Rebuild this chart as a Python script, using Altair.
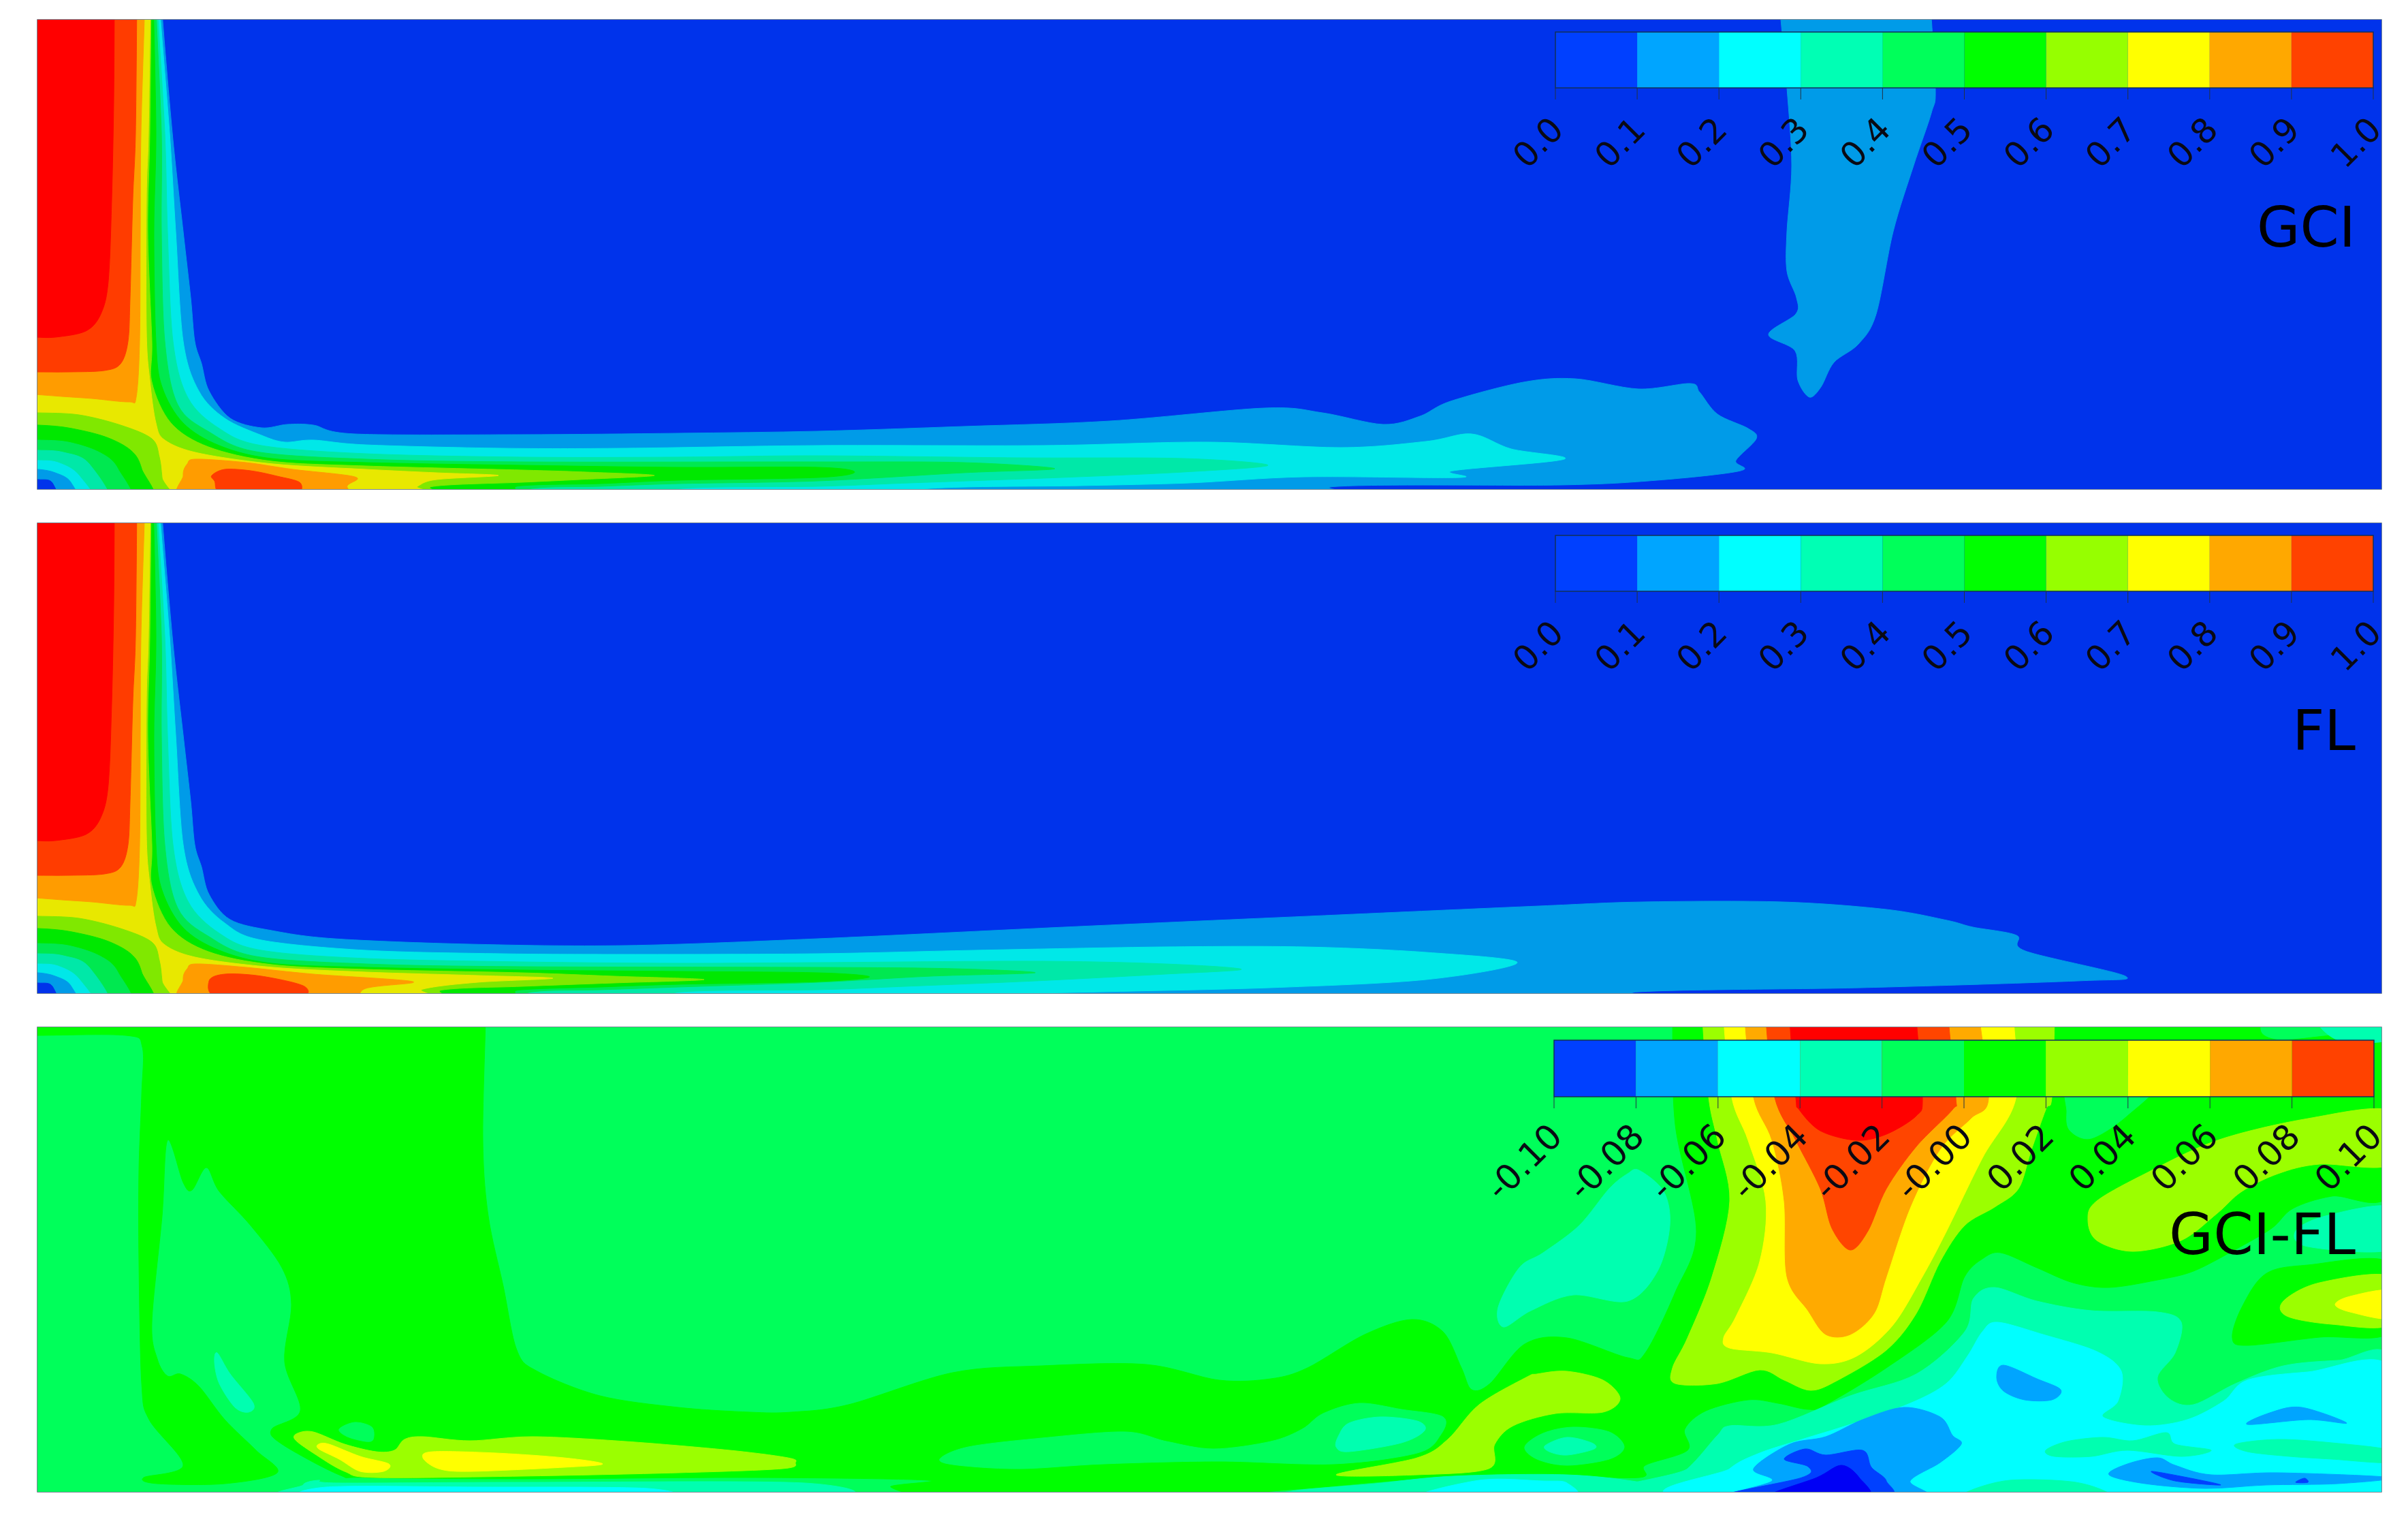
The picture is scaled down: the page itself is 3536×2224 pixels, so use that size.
import altair as alt
import pandas as pd

# palettes (levels 0..10)
PANEL_COLORS = ["#0033EB", "#009BE8", "#00E8E8", "#00E8A8", "#00E850", "#00E800",
                "#80E800", "#E8E800", "#FF9C00", "#FF3C00", "#FF0000"]
FIELD_COLORS = ["#0040FF", "#00A5FF", "#00FFFF", "#00FFB0", "#00FF5A", "#00FF00",
                "#9BFF00", "#FFFF00", "#FFAA00", "#FF4500", "#FF0000"]
DEEP_BLUE = "#0000F5"
BAR_COLORS = ["#0040FF", "#00A5FF", "#00FFFF", "#00FFB4", "#00FF5A", "#00FF00",
              "#96FF00", "#FFFF00", "#FFA800", "#FF4200"]
LABELS_01 = ["0.0", "0.1", "0.2", "0.3", "0.4", "0.5", "0.6", "0.7", "0.8", "0.9", "1.0"]
LABELS_DIFF = ["-0.10", "-0.08", "-0.06", "-0.04", "-0.02", "-0.00", "0.02", "0.04", "0.06", "0.08", "0.10"]

# ---------- contour outlines shared by GCI and FL (left wall and corner) ----------
RED = [(0, -60), (167, -60), (167, -10), (166, 145), (163, 291), (158, 412), (147, 460), (125, 485), (80, 494), (50, 494), (20, 494), (0, 494)]
REDORANGE = [(0, -60), (200, -60), (200, -10), (198, 194), (194, 291), (190, 436), (187, 500), (176, 533), (152, 543), (100, 545), (50, 545), (0, 545)]
ORANGE = [(0, -60), (212, -60), (212, -10), (206, 194), (205, 339), (204, 500), (199, 582), (188, 589), (134, 584), (90, 581), (50, 578), (0, 575)]
CORNER_6 = [(20, 605), (55, 605), (115, 608), (176, 623), (222, 643), (233, 670), (237, 700), (241, 745), (20, 745)]
CORNER_5 = [(20, 623), (55, 623), (99, 627), (153, 640), (191, 660), (207, 687), (216, 745), (20, 745)]
CORNER_4 = [(20, 645), (55, 645), (99, 648), (145, 663), (172, 687), (186, 745), (20, 745)]
CORNER_3 = [(20, 660), (55, 660), (92, 663), (130, 680), (157, 745), (20, 745)]
CORNER_2 = [(20, 675), (55, 675), (84, 678), (115, 697), (136, 745), (20, 745)]
CORNER_1 = [(20, 688), (55, 688), (80, 693), (103, 707), (112, 745), (20, 745)]
CORNER_0 = [(20, 703), (55, 703), (76, 708), (83, 745), (20, 745)]

# ---------- GCI ----------
GCI_1 = [(20, -60), (235, -60), (235, -10), (252, 194), (268, 339), (279, 436), (285, 500), (295, 533), (306, 573), (337, 613),
         (383, 627), (421, 622), (459, 623), (520, 636), (765, 637), (995, 635), (1200, 632), (1414, 625), (1629, 617),
         (1856, 598), (1941, 605), (2030, 622), (2084, 610), (2129, 588), (2236, 560), (2312, 555), (2405, 570),
         (2481, 562), (2495, 575), (2521, 607), (2566, 628), (2578, 643), (2548, 675), (2555, 690), (2432, 704),
         (2289, 711), (1963, 713), (1850, 735), (20, 735)]
GCI_PLUME = [(2611, -60), (2611, -10), (2623, 128), (2630, 242), (2623, 339), (2623, 397), (2637, 436), (2636, 460), (2596, 490),
             (2635, 514), (2639, 557), (2656, 582), (2673, 567), (2692, 531), (2728, 504), (2754, 460), (2779, 339),
             (2809, 242), (2835, 165), (2841, 128), (2833, -10), (2833, -60)]
GCI_2 = [(20, -60), (232, -60), (232, -10), (248, 194), (257, 339), (268, 500), (291, 573), (329, 613), (383, 638), (417, 648),
         (459, 645), (536, 652), (735, 657), (918, 657), (1200, 653), (1530, 653), (1771, 648), (1968, 656), (2093, 647),
         (2160, 636), (2218, 658), (2296, 673), (2133, 690), (2142, 700), (1914, 699), (1745, 708), (1584, 712),
         (1365, 716), (1250, 735), (20, 735)]
GCI_3 = [(20, -60), (229, -60), (229, -10), (241, 194), (245, 339), (253, 500), (275, 583), (321, 628), (383, 653), (536, 665),
         (765, 670), (995, 670), (1200, 668), (1495, 671), (1736, 672), (1861, 682), (1736, 692), (1557, 700),
         (1334, 708), (1200, 713), (1000, 716), (900, 735), (20, 735)]
GCI_4 = [(20, -60), (227, -60), (227, -10), (236, 194), (236, 339), (241, 500), (260, 593), (306, 633), (375, 662), (536, 673),
         (765, 677), (1200, 677), (1414, 678), (1548, 687), (1414, 693), (1200, 705), (995, 709), (880, 713),
         (780, 716), (700, 735), (20, 735)]
GCI_5 = [(20, -60), (224, -60), (224, -10), (228, 194), (225, 339), (228, 500), (237, 567), (268, 620), (321, 653), (398, 672),
         (536, 678), (765, 682), (995, 685), (1200, 685), (1254, 692), (1200, 700), (995, 704), (880, 709),
         (765, 712), (680, 725), (20, 735)]
GCI_6 = [(20, -60), (221, -60), (221, -10), (219, 194), (216, 339), (222, 500), (222, 560), (250, 620), (305, 655), (398, 676),
         (536, 683), (765, 689), (860, 692), (960, 697), (850, 703), (765, 707), (635, 713), (600, 730), (20, 735)]
GCI_7 = [(20, -60), (220, -60), (220, -10), (217, 194), (214, 291), (214, 485), (219, 557), (228, 620), (241, 645), (290, 664),
         (400, 680), (536, 688), (640, 693), (731, 697), (640, 703), (612, 713), (590, 730), (20, 735)]
GCI_8B = [(287, 673), (360, 678), (429, 688), (520, 699), (509, 712), (497, 735), (276, 735), (268, 697), (274, 680)]
GCI_9B = [(310, 697), (329, 688), (367, 690), (406, 698), (440, 708), (428, 725), (329, 725), (314, 705)]

# ---------- FL ----------
FL_1 = [(20, -60), (235, -60), (235, -10), (252, 194), (268, 339), (279, 436), (285, 500), (295, 533), (306, 573), (337, 610),
        (398, 626), (490, 638), (689, 646), (918, 648), (1200, 638), (1583, 620), (1965, 603), (2259, 590), (2412, 584),
        (2616, 584), (2769, 595), (2858, 611), (2896, 621), (2960, 633), (2973, 656), (3120, 693), (3049, 700),
        (2731, 710), (2405, 716), (2300, 735), (20, 735)]
FL_2 = [(20, -60), (232, -60), (232, -10), (248, 194), (257, 339), (268, 500), (291, 573), (329, 615), (383, 640), (536, 655),
        (735, 660), (918, 661), (1200, 660), (1430, 655), (1710, 650), (1914, 650), (2093, 658), (2227, 673),
        (2093, 698), (1863, 710), (1615, 716), (1379, 722), (1250, 735), (20, 735)]
FL_3 = [(20, -60), (229, -60), (229, -10), (241, 194), (245, 339), (253, 500), (275, 583), (321, 630), (383, 655), (536, 667),
        (765, 672), (995, 674), (1200, 673), (1519, 671), (1710, 675), (1822, 683), (1710, 690), (1519, 700),
        (1328, 708), (1200, 713), (1000, 716), (900, 735), (20, 735)]
FL_4 = [(20, -60), (227, -60), (227, -10), (236, 194), (236, 339), (241, 500), (260, 593), (306, 635), (375, 664), (536, 675),
        (765, 679), (1200, 680), (1400, 682), (1519, 688), (1366, 693), (1200, 702), (995, 709), (880, 713),
        (780, 716), (700, 735), (20, 735)]
FL_5 = [(20, -60), (224, -60), (224, -10), (228, 194), (225, 339), (228, 500), (237, 567), (268, 622), (321, 655), (398, 674),
        (536, 680), (765, 684), (995, 686), (1200, 688), (1276, 694), (1200, 701), (995, 705), (880, 709),
        (765, 713), (680, 725), (20, 735)]
FL_6 = [(20, -60), (221, -60), (221, -10), (219, 194), (216, 339), (222, 500), (222, 560), (250, 622), (305, 657), (398, 676),
        (536, 683), (765, 688), (900, 693), (1033, 698), (900, 703), (765, 708), (650, 713), (600, 730), (20, 735)]
FL_7 = [(20, -60), (220, -60), (220, -10), (217, 194), (214, 291), (214, 485), (219, 557), (228, 620), (241, 647), (290, 666),
        (400, 680), (536, 687), (700, 692), (811, 696), (700, 702), (620, 712), (590, 730), (20, 735)]
FL_8B = [(287, 675), (360, 680), (459, 690), (605, 701), (536, 711), (497, 735), (276, 735), (268, 698), (274, 682)]
FL_9B = [(306, 700), (329, 690), (383, 693), (446, 708), (436, 725), (321, 725)]

# ---------- GCI-FL ----------
D_5_MAIN = [(20, 1440), (712, 1440), (712, 1490), (708, 1669), (716, 1780), (738, 1883), (758, 1977), (788, 2008), (880, 2044),
            (995, 2061), (1100, 2068), (1161, 2068), (1245, 2057), (1398, 2010), (1529, 2000), (1682, 1998), (1789, 2021),
            (1865, 2019), (1919, 2003), (2003, 1954), (2072, 1932), (2118, 1950), (2145, 2003), (2160, 2035), (2187, 2026),
            (2238, 1968), (2300, 1959), (2389, 1988), (2415, 1981), (2459, 1892), (2490, 1803), (2459, 1646), (2455, 1490),
            (2455, 1440), (3317, 1440), (3317, 1490), (3340, 1521), (3510, 1530), (3510, 1744), (3423, 1751), (3366, 1769), (3335, 1798), (3282, 1829),
            (3220, 1861), (3167, 1874), (3096, 1885), (3043, 1878), (2990, 1856), (2937, 1834), (2910, 1843), (2884, 1869),
            (2857, 1936), (2769, 2003), (2680, 2057), (2654, 2064), (2610, 2055), (2566, 2050), (2504, 2066), (2473, 2093),
            (2477, 2124), (2415, 2146), (2406, 2164), (2265, 2160), (2133, 2162), (2018, 2171), (1904, 2181), (1700, 2195),
            (1400, 2195), (1307, 2178), (1360, 2168), (1100, 2164), (765, 2166), (536, 2164), (497, 2160), (413, 2115),
            (398, 2093), (440, 2066), (417, 1994), (427, 1910), (413, 1856), (367, 1794), (321, 1744), (302, 1709),
            (281, 1742), (268, 1731), (245, 1669), (237, 1780), (222, 1936), (230, 1990), (245, 2015), (264, 2012),
            (291, 2030), (329, 2079), (375, 2124), (406, 2157), (329, 2173), (230, 2173), (210, 2164), (268, 2146),
            (218, 2079), (207, 2026), (203, 1847), (203, 1713), (207, 1602), (208, 1532), (184, 1515), (55, 1515), (20, 1515)]
D_5_RIGHT = [(3510, 1849), (3388, 1852), (3326, 1865), (3291, 1914), (3277, 1959), (3299, 1970), (3405, 1958), (3510, 1950)]
D_6_PLUME = [(2499, 1440), (3016, 1440), (3016, 1490), (3012, 1606), (3003, 1624), (2981, 1686), (2963, 1740), (2928, 1767), (2884, 1794),
             (2848, 1847), (2813, 1923), (2769, 1977), (2698, 2021), (2658, 2036), (2619, 2021), (2583, 2006), (2521, 2026),
             (2459, 2026), (2455, 2003), (2477, 1959), (2513, 1869), (2539, 1758), (2521, 1669), (2508, 1606), (2499, 1490)]
D_6_UPPER = [(3510, 1626), (3388, 1637), (3255, 1669), (3149, 1718), (3078, 1758), (3065, 1785), (3078, 1816), (3131, 1832),
             (3202, 1816), (3255, 1776), (3291, 1744), (3344, 1718), (3405, 1704), (3510, 1704)]
D_6_RIGHT = [(3510, 1869), (3405, 1878), (3352, 1905), (3357, 1927), (3423, 1939), (3510, 1939)]
D_6_MID = [(1961, 2160), (2080, 2135), (2125, 2108), (2171, 2057), (2240, 2017), (2256, 2012), (2300, 2008), (2353, 2021),
           (2378, 2048), (2353, 2068), (2283, 2070), (2221, 2088), (2194, 2115), (2185, 2151), (2080, 2160)]
D_6_LEFT = [(436, 2099), (459, 2097), (505, 2115), (551, 2126), (578, 2124), (593, 2108), (620, 2104), (689, 2110), (781, 2104),
            (918, 2111), (1071, 2124), (1156, 2135), (1167, 2142), (1148, 2151), (995, 2157), (765, 2162), (551, 2164),
            (505, 2155), (459, 2128), (432, 2108)]
D_7_PLUME = [(2530, 1440), (2956, 1440), (2956, 1490), (2959, 1608), (2910, 1695), (2857, 1803), (2822, 1869), (2778, 1941), (2725, 1986),
             (2672, 1997), (2601, 1981), (2539, 1974), (2530, 1959), (2548, 1928), (2583, 1847), (2592, 1758), (2566, 1669),
             (2542, 1606), (2530, 1490)]
D_7_RIGHT = [(3510, 1890), (3450, 1898), (3428, 1910), (3450, 1921), (3510, 1930)]
D_7_A = [(467, 2115), (482, 2115), (528, 2133), (570, 2144), (562, 2155), (528, 2155), (497, 2137), (467, 2122)]
D_7_B = [(620, 2135), (635, 2126), (727, 2128), (827, 2135), (884, 2144), (827, 2149), (689, 2155), (643, 2151)]
D_8_PLUME = [(2561, 1440), (2906, 1440), (2906, 1490), (2919, 1608), (2893, 1637), (2848, 1682), (2804, 1767), (2769, 1869), (2751, 1923),
             (2716, 1954), (2680, 1954), (2654, 1919), (2623, 1869), (2619, 1758), (2601, 1669), (2574, 1606), (2561, 1490)]
D_9_PLUME = [(2592, 1440), (2860, 1440), (2860, 1490), (2871, 1606), (2866, 1624), (2813, 1678), (2769, 1740), (2742, 1802), (2716, 1830),
             (2689, 1798), (2672, 1740), (2636, 1669), (2605, 1606), (2592, 1490)]
D_10_PLUME = [(2627, 1440), (2813, 1440), (2813, 1490), (2822, 1606), (2813, 1633), (2769, 1660), (2725, 1669), (2672, 1655), (2641, 1624),
              (2636, 1606), (2627, 1490)]
D_4_UNDERBAR = [(3043, 1580), (3167, 1580), (3122, 1633), (3070, 1666), (3039, 1655), (3034, 1628)]
D_4_SMALL = [(497, 2093), (520, 2083), (545, 2090), (547, 2108), (536, 2111), (509, 2104)]
D_4_RING = [(2238, 2119), (2265, 2099), (2309, 2090), (2362, 2097), (2384, 2119), (2362, 2137), (2300, 2146), (2256, 2137)]
D_4_BAND = [(1379, 2137), (1421, 2119), (1529, 2106), (1651, 2097), (1712, 2111), (1781, 2122), (1865, 2111), (1911, 2093),
            (1942, 2070), (1995, 2055), (2057, 2064), (2118, 2075), (2114, 2102), (2080, 2128), (1957, 2144), (1789, 2140),
            (1620, 2144), (1498, 2151), (1406, 2146)]
D_3_BIG = [(2415, 2195), (2477, 2151), (2521, 2102), (2539, 2088), (2610, 2086), (2716, 2044), (2813, 2012), (2884, 1950),
           (2897, 1901), (2928, 1885), (2990, 1905), (3070, 1919), (3167, 1921), (3202, 1936), (3193, 1981), (3167, 2017),
           (3184, 2048), (3220, 2057), (3282, 2026), (3352, 2000), (3432, 1992), (3510, 1990), (3510, 2195)]
D_3_WEST = [(2406, 1713), (2442, 1744), (2451, 1794), (2433, 1861), (2389, 1905), (2309, 1896), (2247, 1919), (2207, 1943),
            (2199, 1914), (2230, 1856), (2265, 1834), (2318, 1794), (2362, 1740), (2389, 1718)]
D_3_EAST = [(3510, 1767), (3414, 1780), (3370, 1802), (3388, 1825), (3510, 1829)]
D_3_TOP = [(3401, 1480), (3510, 1480), (3510, 1521), (3430, 1521)]
D_3_SLIVER = [(318, 1981), (337, 2012), (371, 2055), (364, 2068), (344, 2061), (321, 2026), (314, 1995)]
D_3_ISLE = [(1965, 2102), (1980, 2084), (2026, 2075), (2080, 2081), (2091, 2095), (2057, 2113), (1980, 2126), (1961, 2119)]
D_3_RING = [(2268, 2117), (2300, 2105), (2336, 2113), (2340, 2122), (2300, 2131), (2274, 2126)]
D_3_FLOOR_L = [(444, 2175), (467, 2168), (497, 2172), (765, 2171), (1180, 2172), (1190, 2195), (459, 2195)]
D_3_FLOOR_R = [(1896, 2184), (2018, 2173), (2133, 2162), (2300, 2160), (2415, 2172), (2530, 2195), (1896, 2195)]
D_2_DUMMY_NOTE = None
D_2_BIG = [(2504, 2195), (2539, 2151), (2583, 2128), (2645, 2108), (2716, 2086), (2804, 2055), (2857, 2026), (2888, 1986),
           (2910, 1950), (2932, 1936), (2999, 1954), (3078, 1979), (3114, 2008), (3109, 2052), (3087, 2075), (3149, 2088),
           (3211, 2079), (3264, 2052), (3299, 2021), (3388, 2009), (3510, 2003), (3510, 2195)]
D_2_FLOOR_L = [(478, 2178), (700, 2178), (950, 2180), (950, 2195), (478, 2195)]
D_2_FLOOR_R = [(2171, 2168), (2263, 2169), (2300, 2172), (2300, 2195), (2080, 2195)]
D_3_ISLE_A = [(3003, 2124), (3034, 2111), (3087, 2105), (3131, 2110), (3180, 2098), (3193, 2115), (3246, 2124), (3202, 2133),
              (3123, 2124), (3070, 2133), (3016, 2133)]
D_3_ISLE_B = [(3282, 2115), (3344, 2108), (3423, 2113), (3510, 2124), (3510, 2142), (3423, 2137), (3361, 2133), (3299, 2126)]
D_3_ISLE_C = [(2890, 2184), (2950, 2168), (3040, 2170), (3090, 2184), (3090, 2195), (2890, 2195)]
D_1_A = [(2941, 1999), (2990, 2019), (3025, 2035), (3012, 2050), (2972, 2050), (2941, 2037), (2931, 2017)]
D_1_B = [(2574, 2151), (2627, 2115), (2680, 2104), (2734, 2079), (2795, 2061), (2848, 2075), (2866, 2102), (2879, 2115),
         (2848, 2142), (2804, 2169), (2818, 2195), (2539, 2195), (2601, 2169)]
D_1_C = [(3299, 2086), (3335, 2068), (3379, 2061), (3445, 2084), (3388, 2079)]
D_1_D = [(3096, 2160), (3123, 2144), (3167, 2135), (3193, 2146), (3246, 2160), (3344, 2157), (3510, 2164), (3432, 2173),
         (3326, 2175), (3238, 2180), (3149, 2173)]
D_0_A = [(2619, 2137), (2650, 2122), (2680, 2131), (2734, 2124), (2747, 2149), (2769, 2169), (2760, 2195), (2521, 2195),
         (2645, 2164), (2654, 2148)]
D_0_B = [(3158, 2155), (3211, 2164), (3260, 2175), (3193, 2169)]
D_0_C = [(3370, 2171), (3383, 2165), (3388, 2171)]
D_DEEP = [(2667, 2164), (2703, 2146), (2729, 2164), (2738, 2195), (2592, 2195)]

X_SCALE = alt.Scale(domain=[54, 3496], range=[0, 3442], nice=False, zero=False)
FONT = "DejaVu Sans"


def area(points, color, x_scale, y_scale):
    df = pd.DataFrame(points, columns=["x", "y"])
    df["i"] = range(len(df))
    return alt.Chart(df).mark_line(
        fill=color, stroke=color, strokeWidth=1, interpolate="cardinal-closed", tension=0.05, clip=True
    ).encode(
        x=alt.X("x:Q", scale=x_scale, axis=None),
        y=alt.Y("y:Q", scale=y_scale, axis=None),
        order="i:Q",
    )


def colorbar(x0, x1, y0, y1, tick_end, label_y, labels, size, x_scale, y_scale):
    step = (x1 - x0) / 10
    bar = pd.DataFrame({
        "a": [x0 + i * step for i in range(10)],
        "b": [x0 + (i + 1) * step for i in range(10)],
        "c": BAR_COLORS,
        "t": y0, "u": y1,
    })
    xe = alt.X("a:Q", scale=x_scale, axis=None)
    ye = alt.Y("t:Q", scale=y_scale, axis=None)
    cells = alt.Chart(bar).mark_rect().encode(
        x=xe, x2="b:Q", y=ye, y2="u:Q", fill=alt.Fill("c:N", scale=None))
    frame = alt.Chart(pd.DataFrame({"a": [x0], "b": [x1], "t": [y0], "u": [y1]})).mark_rect(
        fillOpacity=0, stroke="#12305a", strokeWidth=1.5).encode(x=xe, x2="b:Q", y=ye, y2="u:Q")
    ticks_df = pd.DataFrame({"a": [x0 + i * step for i in range(11)], "t": y1, "u": tick_end, "l": labels,
                             "ly": label_y})
    ticks = alt.Chart(ticks_df).mark_rule(stroke="#223344", strokeWidth=1).encode(x=xe, y=ye, y2="u:Q")
    text = alt.Chart(ticks_df).mark_text(
        font=FONT, fontSize=size, angle=315, align="right", baseline="middle", color="#0a0a14", dx=6
    ).encode(x=xe, y=alt.Y("ly:Q", scale=y_scale, axis=None), text="l:N")
    return [cells, frame, ticks, text]


def title(label, x, y, size, x_scale, y_scale):
    return alt.Chart(pd.DataFrame({"x": [x], "y": [y], "l": [label]})).mark_text(
        font=FONT, fontSize=size, align="right", baseline="alphabetic", color="#000000"
    ).encode(x=alt.X("x:Q", scale=x_scale, axis=None), y=alt.Y("y:Q", scale=y_scale, axis=None), text="l:N")


# ---- panel 1
ys1 = alt.Scale(domain=[717, 28], range=[689, 0], nice=False, zero=False)
c = PANEL_COLORS
bg = [(20, -10), (3520, -10), (3520, 735), (20, 735)]
sets1 = [(bg, c[0]), (GCI_1, c[1]), (GCI_PLUME, c[1]), (GCI_2, c[2]), (GCI_3, c[3]), (GCI_4, c[4]), (GCI_5, c[5]),
         (GCI_6, c[6]), (GCI_7, c[7]), (ORANGE, c[8]), (REDORANGE, c[9]), (RED, c[10]), (GCI_8B, c[8]), (GCI_9B, c[9]),
         (CORNER_6, c[6]), (CORNER_5, c[5]), (CORNER_4, c[4]), (CORNER_3, c[3]), (CORNER_2, c[2]), (CORNER_1, c[1]),
         (CORNER_0, c[0])]
p1 = alt.layer(*[area(p, col, X_SCALE, ys1) for p, col in sets1],
               *colorbar(2283, 3484, 46, 128, 145, 186, LABELS_01, 50, X_SCALE, ys1),
               title("GCI", 3458, 361, 82, X_SCALE, ys1)).properties(width=3442, height=689)

# ---- panel 2
ys2 = alt.Scale(domain=[718, 28], range=[690, 0], nice=False, zero=False)
sets2 = [(bg, c[0]), (FL_1, c[1]), (FL_2, c[2]), (FL_3, c[3]), (FL_4, c[4]), (FL_5, c[5]),
         (FL_6, c[6]), (FL_7, c[7]), (ORANGE, c[8]), (REDORANGE, c[9]), (RED, c[10]), (FL_8B, c[8]), (FL_9B, c[9]),
         (CORNER_6, c[6]), (CORNER_5, c[5]), (CORNER_4, c[4]), (CORNER_3, c[3]), (CORNER_2, c[2]), (CORNER_1, c[1]),
         (CORNER_0, c[0])]
p2 = alt.layer(*[area(p, col, X_SCALE, ys2) for p, col in sets2],
               *colorbar(2283, 3484, 46, 128, 145, 186, LABELS_01, 50, X_SCALE, ys2),
               title("FL", 3458, 361, 82, X_SCALE, ys2)).properties(width=3442, height=690)

# ---- panel 3
ys3 = alt.Scale(domain=[2185, 1503], range=[682, 0], nice=False, zero=False)
f = FIELD_COLORS
bg3 = [(20, 1480), (3520, 1480), (3520, 2200), (20, 2200)]
sets3 = [(bg3, f[4]), (D_5_MAIN, f[5]), (D_5_RIGHT, f[5]), (D_4_UNDERBAR, f[4]), (D_4_SMALL, f[4]), (D_4_RING, f[4]), (D_4_BAND, f[4]),
         (D_6_PLUME, f[6]), (D_6_UPPER, f[6]), (D_6_RIGHT, f[6]), (D_6_MID, f[6]), (D_6_LEFT, f[6]),
         (D_7_PLUME, f[7]), (D_7_RIGHT, f[7]), (D_7_A, f[7]), (D_7_B, f[7]),
         (D_8_PLUME, f[8]), (D_9_PLUME, f[9]), (D_10_PLUME, f[10]),
         (D_3_BIG, f[3]), (D_3_WEST, f[3]), (D_3_EAST, f[3]), (D_3_TOP, f[3]), (D_3_SLIVER, f[3]), (D_3_ISLE, f[3]), (D_3_RING, f[3]),
         (D_3_FLOOR_L, f[3]), (D_3_FLOOR_R, f[3]),
         (D_2_BIG, f[2]), (D_2_FLOOR_L, f[2]), (D_2_FLOOR_R, f[2]),
         (D_3_ISLE_A, f[3]), (D_3_ISLE_B, f[3]), (D_3_ISLE_C, f[3]),
         (D_1_A, f[1]), (D_1_B, f[1]), (D_1_C, f[1]), (D_1_D, f[1]),
         (D_0_A, f[0]), (D_0_B, f[0]), (D_0_C, f[0]), (D_DEEP, DEEP_BLUE)]
p3 = alt.layer(*[area(p, col, X_SCALE, ys3) for p, col in sets3],
               *colorbar(2281, 3485, 1522, 1605, 1622, 1660, LABELS_DIFF, 51, X_SCALE, ys3),
               title("GCI-FL", 3458, 1836, 84, X_SCALE, ys3)).properties(width=3442, height=682)

chart = alt.vconcat(p1, p2, p3, spacing=48).properties(
    padding={"left": 46, "top": 20, "right": 0, "bottom": 0}, background="#ffffff"
).configure_view(stroke="#4a6070", strokeWidth=1.5)

chart.save("out.html", embed_options={"renderer": "svg", "actions": False})
